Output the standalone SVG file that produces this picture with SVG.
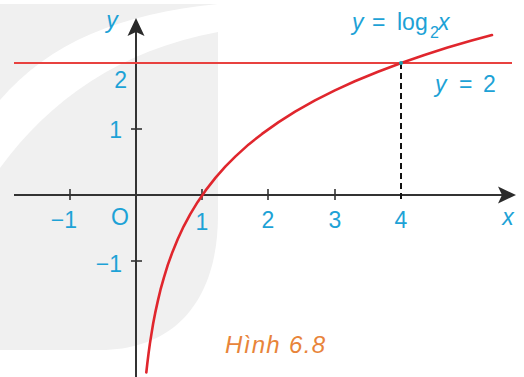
<svg xmlns="http://www.w3.org/2000/svg" width="524" height="377" viewBox="0 0 524 377">
<defs>
<marker id="arr" markerUnits="userSpaceOnUse" markerWidth="20" markerHeight="20" viewBox="0 -10 20 20" refX="4" refY="0" orient="auto">
<path d="M0,-8.5 L18,0 L0,8.5 L4,0 Z" fill="#2b2b2b"/>
</marker>
</defs>
<style>
.lbl{font-family:"Liberation Sans",Arial,sans-serif;font-size:23px;fill:#1da2d6}
.it{font-style:italic}
.axis{stroke:#333;stroke-width:2;fill:none}
.tick{stroke:#333;stroke-width:1.6}
</style>
<rect width="524" height="377" fill="#ffffff"/>
<g id="background">
<path d="M0,4 H218 V215 C218,300 175,350 100,350 H0 Z" fill="#f0f0f0"/>
<path d="M0,100 C50,42 120,14 218,4 V32 C120,50 50,100 0,168 Z" fill="#ffffff"/>
</g>
<g id="connectors">
<line class="axis" x1="14" y1="195" x2="502" y2="195" marker-end="url(#arr)"/>
<line class="axis" x1="136" y1="377" x2="136" y2="32" marker-end="url(#arr)"/>
<g id="ticks">
<line class="tick" x1="70" y1="189" x2="70" y2="200"/>
<line class="tick" x1="202" y1="189" x2="202" y2="200"/>
<line class="tick" x1="268" y1="189" x2="268" y2="200"/>
<line class="tick" x1="335" y1="189" x2="335" y2="200"/>
<line class="tick" x1="131" y1="129" x2="142" y2="129"/>
<line class="tick" x1="131" y1="261" x2="142" y2="261"/>
</g>
<line x1="401" y1="63" x2="401" y2="200" stroke="#111" stroke-width="2" stroke-dasharray="6,4"/>
<line x1="14" y1="63" x2="512" y2="63" stroke="#e8413f" stroke-width="1.8"/>
<polyline fill="none" stroke="#e0262d" stroke-width="2.6" stroke-linejoin="round" stroke-linecap="round" points="146.3,372.5 147.3,363.7 148.6,353.1 149.9,343.6 151.3,334.9 153.2,323.3 155.2,312.9 157.9,300.6 160.5,289.7 163.9,277.6 167.8,264.9 172.5,251.9 177.8,239 183.7,226.3 190.4,213.9 197.7,201.9 205.6,190.4 215.6,177.6 225.5,166.4 235.5,156.4 248.7,144.4 262,133.9 278.6,122.1 295.1,111.6 315,100.4 334.9,90.4 354.8,81.3 378,71.7 401.2,63 424.4,55 447.6,47.6 470.8,40.8 492,35"/>
<circle cx="401" cy="63" r="2" fill="#1aa3b0"/>
</g>
<g id="labels">
<text class="lbl it" x="112" y="28" text-anchor="middle">y</text>
<text class="lbl" x="127" y="88" text-anchor="end">2</text>
<text class="lbl" x="122" y="138" text-anchor="end">1</text>
<text class="lbl" x="122" y="272" text-anchor="end">−1</text>
<text class="lbl" x="77" y="228" text-anchor="end">−1</text>
<text class="lbl" x="120" y="225" text-anchor="middle">O</text>
<text class="lbl" x="202" y="230" text-anchor="middle">1</text>
<text class="lbl" x="268" y="228" text-anchor="middle">2</text>
<text class="lbl" x="335" y="228" text-anchor="middle">3</text>
<text class="lbl" x="401" y="228" text-anchor="middle">4</text>
<text class="lbl it" x="508" y="225" text-anchor="middle">x</text>
</g>
<g id="eq-log">
<text class="lbl" y="30"><tspan class="it" x="352">y</tspan><tspan x="372">=</tspan><tspan x="397">log</tspan><tspan x="430" y="38" font-size="16">2</tspan><tspan class="it" x="438" y="30">x</tspan></text>
</g>
<g id="eq-2">
<text class="lbl" y="92"><tspan class="it" x="435">y</tspan><tspan x="459">=</tspan><tspan x="483">2</tspan></text>
</g>
<g id="caption">
<text x="225" y="353" font-family="'Liberation Sans',Arial,sans-serif" font-size="24" font-style="italic" fill="#e8843a" textLength="100">Hình 6.8</text>
</g>
</svg>
